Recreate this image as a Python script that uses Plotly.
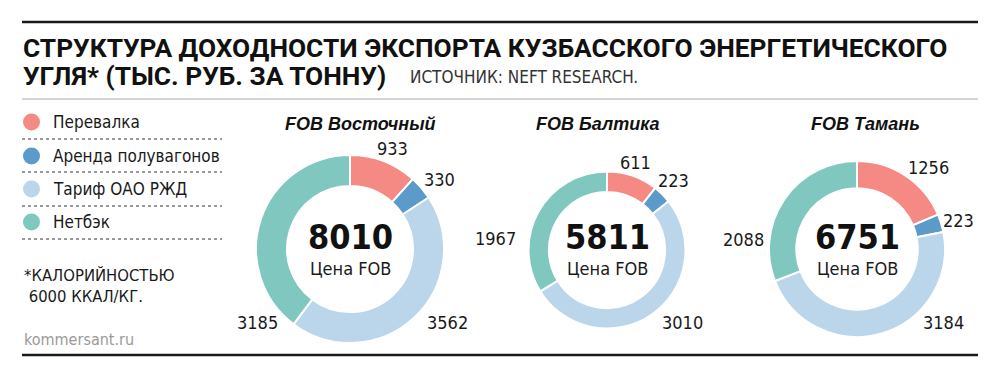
import plotly.graph_objects as go

# ---------------- data ----------------
categories = ["Перевалка", "Аренда полувагонов", "Тариф ОАО РЖД", "Нетбэк"]
ports = ["FOB Восточный", "FOB Балтика", "FOB Тамань"]
vostochny = [933, 330, 3562, 3185]
baltika = [611, 223, 3010, 1967]
taman = [1256, 223, 3184, 2088]
fob_price = [8010, 5811, 6751]
series = [vostochny, baltika, taman]

title_lines = ["СТРУКТУРА ДОХОДНОСТИ ЭКСПОРТА КУЗБАССКОГО ЭНЕРГЕТИЧЕСКОГО",
               "УГЛЯ* (ТЫС. РУБ. ЗА ТОННУ)"]
source_text = "ИСТОЧНИК: NEFT RESEARCH."
footnote = ["*КАЛОРИЙНОСТЬЮ", " 6000 ККАЛ/КГ."]
center_caption = "Цена FOB"
site = "kommersant.ru"

# ---------------- style / layout ----------------
W, H = 1000, 377
colors = ["#F58A85", "#5B9AC9", "#BBD5EA", "#80C8BF"]
NARROW = "DejaVu Sans Condensed, Liberation Sans Narrow, sans-serif"
TITLEF = "Roboto, DejaVu Sans Condensed, sans-serif"

def px(x):
    return x / W

def py(y):
    return 1 - y / H

# donut geometry in pixels: center x, center y, outer radius, hole fraction
donuts = [(350, 249, 94, 0.67), (607, 250, 78.5, 0.74), (857, 249, 88, 0.69)]
title_pos = [(360, 124), (598, 124), (865, 124)]
center_y = 237
caption_y = 268
label_pos = [
    [(392, 148), (439, 179), (447, 322), (257, 322)],
    [(635, 163), (673, 181), (682, 322), (495, 238)],
    [(928, 167), (958, 221), (943, 322), (743, 239)],
]

fig = go.Figure()
for i, vals in enumerate(series):
    cx, cy, r, hole = donuts[i]
    fig.add_trace(go.Pie(
        labels=categories, values=vals, sort=False, direction="clockwise",
        rotation=0, hole=hole, textinfo="none", hoverinfo="label+value",
        marker=dict(colors=colors, line=dict(color="white", width=2)),
        domain=dict(x=[px(cx - r), px(cx + r)], y=[py(cy + r), py(cy - r)]),
        showlegend=False,
    ))

ann = []
shapes = []

# title
ann.append(dict(text="<b>" + title_lines[0] + "</b>", x=px(21), y=py(48),
                xanchor="left", yanchor="middle", showarrow=False,
                font=dict(family=TITLEF, size=26.3, color="#111", weight=900)))
ann.append(dict(text="<b>" + title_lines[1] + "</b>", x=px(21), y=py(76),
                xanchor="left", yanchor="middle", showarrow=False,
                font=dict(family=TITLEF, size=26.3, color="#111", weight=900)))
ann.append(dict(text=source_text, x=px(408), y=py(77), xanchor="left", yanchor="middle",
                showarrow=False, font=dict(family=NARROW, size=17, color="#333")))

# lines
shapes.append(dict(type="line", xref="paper", yref="paper", x0=px(22), x1=px(978),
                   y0=py(22), y1=py(22), line=dict(color="#1a1a1a", width=2.5)))
shapes.append(dict(type="line", xref="paper", yref="paper", x0=px(22), x1=px(978),
                   y0=py(99), y1=py(99), line=dict(color="#aaaaaa", width=1.2)))
shapes.append(dict(type="line", xref="paper", yref="paper", x0=px(22), x1=px(978),
                   y0=py(355), y1=py(355), line=dict(color="#1a1a1a", width=2.5)))

# legend
leg_y = [122, 156, 189, 222]
sep_y = [139, 172, 206, 239]
for k, cat in enumerate(categories):
    cyl = leg_y[k]
    shapes.append(dict(type="circle", xref="paper", yref="paper",
                       x0=px(23), x1=px(40), y0=py(cyl + 8.5), y1=py(cyl - 8.5),
                       fillcolor=colors[k], line=dict(width=0)))
    ann.append(dict(text=cat, x=px(51), y=py(cyl), xanchor="left", yanchor="middle",
                    showarrow=False, font=dict(family=NARROW, size=17, color="#1a1a1a")))
    shapes.append(dict(type="line", xref="paper", yref="paper", x0=px(22), x1=px(222),
                       y0=py(sep_y[k]), y1=py(sep_y[k]),
                       line=dict(color="#333", width=1, dash="dot")))

ann.append(dict(text=footnote[0], x=px(22), y=py(275), xanchor="left", yanchor="middle",
                showarrow=False, font=dict(family=NARROW, size=16.5, color="#1a1a1a")))
ann.append(dict(text=footnote[1], x=px(22), y=py(296), xanchor="left", yanchor="middle",
                showarrow=False, font=dict(family=NARROW, size=16.5, color="#1a1a1a")))
ann.append(dict(text=site, x=px(22), y=py(339), xanchor="left", yanchor="middle",
                showarrow=False, font=dict(family=NARROW, size=16, color="#9a9a9a")))

# donut annotations
for i, vals in enumerate(series):
    cx, cy, r, hole = donuts[i]
    tx, ty = title_pos[i]
    ann.append(dict(text="<b><i>" + ports[i] + "</i></b>", x=px(tx), y=py(ty),
                    xanchor="center", yanchor="middle", showarrow=False,
                    font=dict(family="Liberation Sans, Arial, sans-serif", size=18, color="#111")))
    ann.append(dict(text="<b>" + str(fob_price[i]) + "</b>", x=px(cx), y=py(center_y),
                    xanchor="center", yanchor="middle", showarrow=False,
                    font=dict(family=NARROW, size=34, color="#111")))
    ann.append(dict(text=center_caption, x=px(cx), y=py(caption_y),
                    xanchor="center", yanchor="middle", showarrow=False,
                    font=dict(family=NARROW, size=18, color="#1a1a1a")))
    for j, v in enumerate(vals):
        lx, ly = label_pos[i][j]
        ann.append(dict(text=str(v), x=px(lx), y=py(ly), xanchor="center", yanchor="middle",
                        showarrow=False, font=dict(family=NARROW, size=18, color="#1a1a1a")))

fig.update_layout(
    width=W, height=H, margin=dict(l=0, r=0, t=0, b=0),
    paper_bgcolor="white", plot_bgcolor="white",
    annotations=ann, shapes=shapes,
)

fig.write_html("out.html", config={"displayModeBar": False},
               post_script="document.body.style.margin='0';")
